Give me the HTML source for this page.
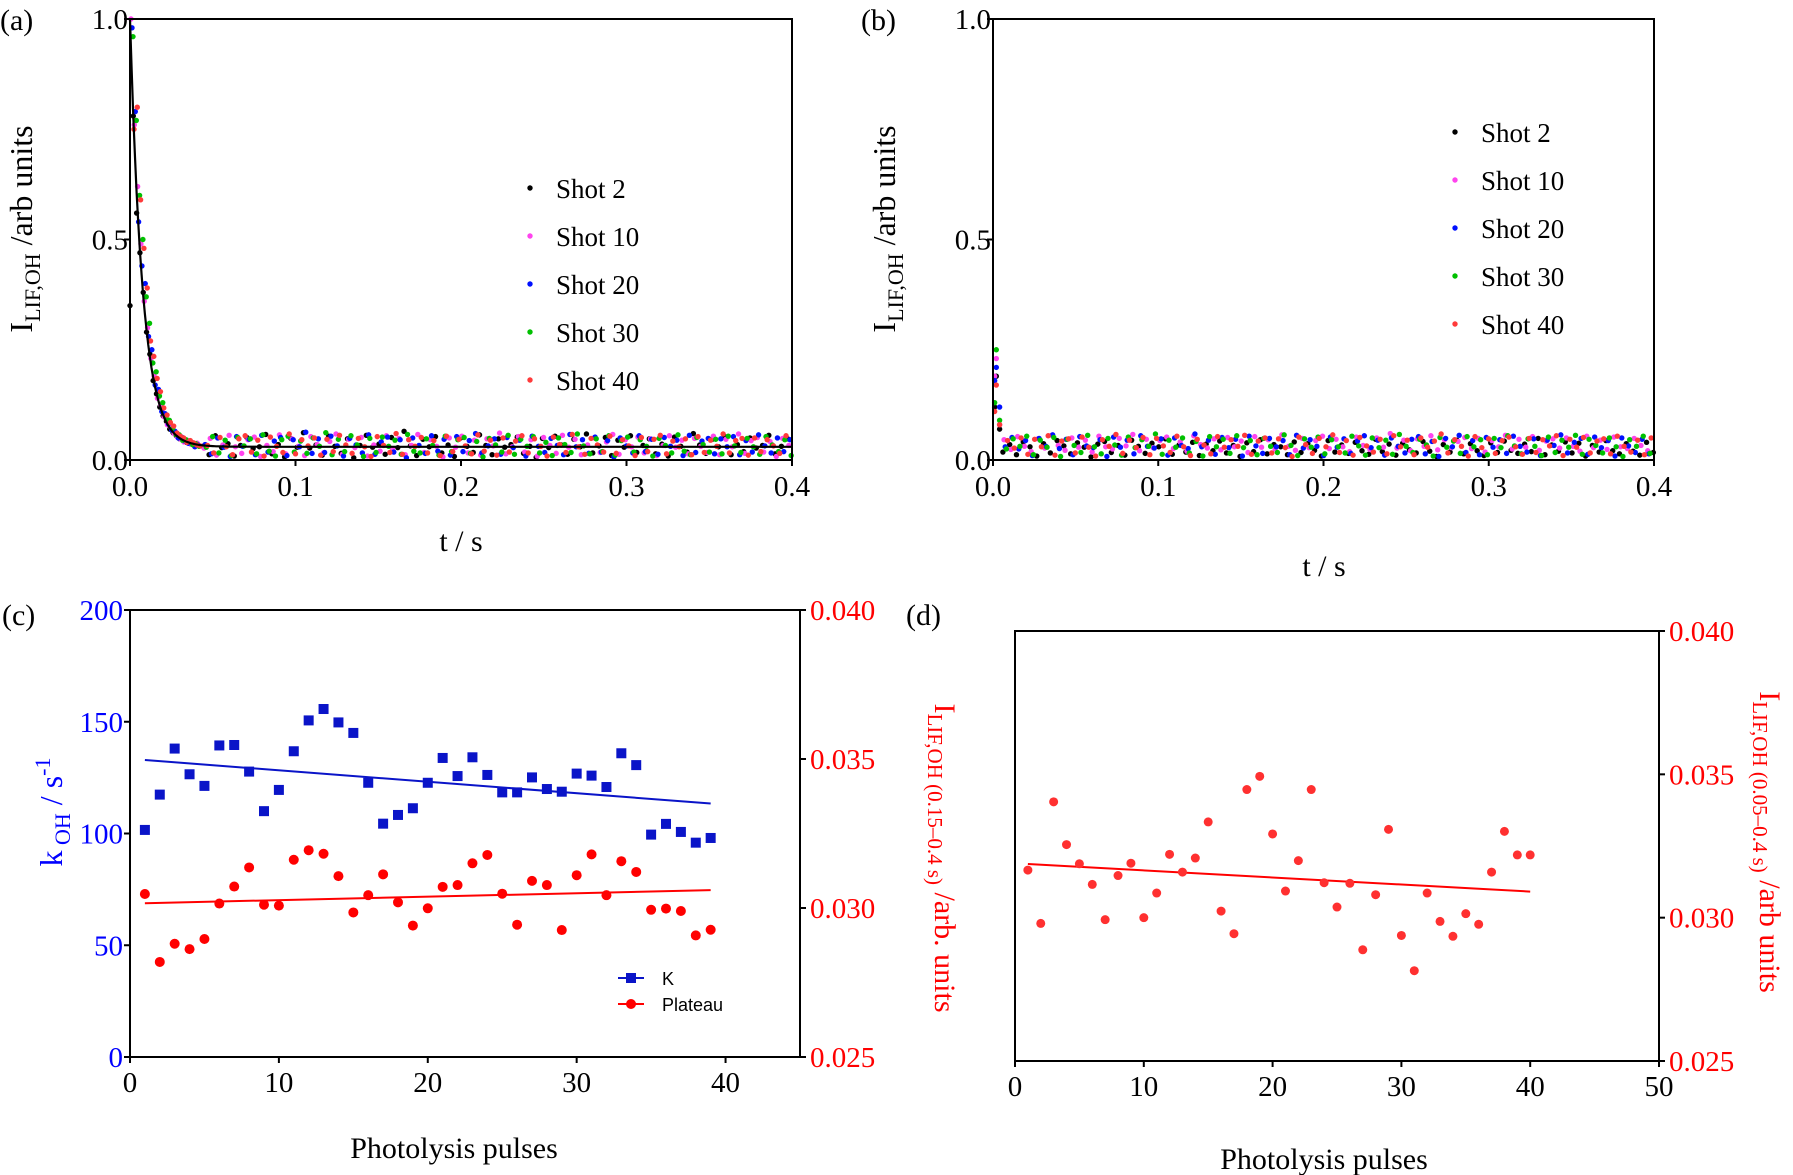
<!DOCTYPE html>
<html><head><meta charset="utf-8"><style>
html,body{margin:0;padding:0;background:#fff;}
svg{display:block;}
text{font-family:"Liberation Serif",serif;}
text.sans{font-family:"Liberation Sans",sans-serif;}
</style></head><body>
<svg id="chart" width="1793" height="1175" viewBox="0 0 1793 1175" xmlns="http://www.w3.org/2000/svg"></svg>
<script>
// ---------- Panel (a) data: decay early points (t = 0..0.04 step 0.002), thousandths ----------
const aEarlyBlack = [350,780,560,470,380,290,240,180,150,120,100,88,70,62,55,48,44,40,38,36,35];
const aEarlyMag   = [1000,760,620,490,360,300,230,190,140,125,98,80,75,60,52,47,41,45,36,33,38];
const aEarlyBlue  = [980,790,540,440,400,280,250,170,160,110,105,82,68,65,50,52,43,38,40,30,34];
const aEarlyGreen = [960,770,600,500,370,310,220,200,145,130,95,90,72,58,57,45,46,42,35,37,31];
const aEarlyRed   = [750,800,590,480,390,270,235,185,155,118,102,85,77,61,54,50,40,44,39,34,32];
// plateau noise (thousandths)
const aNoiseBlack = [31,12,55,28,37,9,33,51,26,30,58,14,35,7,49,29,62,27,34,11,54,31,15,48,5,33,56,29,36,13,51,28,65,32,10,47,30,53,16,34,8,50,31,17,57,33,12,48,29,35,52,15,31,6,49,28,54,34,13,47,30,59,16,32,51,10,45,29,55,17,33,48,14,36,9,52,31,18,60,34,15,47,30,53,12,35,19,50,27,33,56,14,31,48,28];
const aNoiseMag = [27,49,11,34,56,30,15,46,52,8,33,19,57,14,48,31,10,53,35,16,42,59,13,47,28,51,9,34,20,55,25,49,12,33,58,17,46,31,7,50,29,54,16,45,11,48,32,61,14,30,53,18,46,9,51,33,15,56,29,47,12,34,50,17,41,58,13,46,30,52,16,48,10,33,55,29,45,14,49,31,17,54,12,47,30,59,15,44,51,18,42,8,49,33,16];
const aNoiseBlue = [35,14,50,29,8,53,31,47,12,56,18,43,51,10,46,30,63,15,48,17,54,32,9,49,34,16,57,13,41,52,18,46,5,50,33,15,55,20,47,11,53,19,44,60,16,32,48,13,51,28,45,9,54,31,17,49,33,12,58,30,46,15,52,18,44,7,50,32,16,55,19,47,13,51,31,45,10,56,17,43,49,14,48,30,53,12,44,18,57,32,16,50,19,46,11];
const aNoiseGreen = [29,53,16,45,10,51,32,48,14,57,20,9,46,54,18,43,15,50,31,62,12,47,19,55,34,8,49,17,52,31,45,13,58,20,16,48,33,11,54,19,46,51,15,42,7,49,34,18,56,13,47,31,53,16,40,10,50,35,17,59,32,14,48,19,55,11,44,52,18,46,31,9,49,33,16,57,20,12,51,35,18,47,14,54,32,17,49,30,13,53,34,19,46,10,48];
const aNoiseRed = [33,16,51,30,12,48,55,18,45,9,52,31,17,59,14,46,32,50,11,47,19,56,34,15,49,30,8,53,33,17,60,13,46,31,51,16,44,10,54,19,47,32,14,57,20,45,11,50,18,43,55,16,48,31,9,52,35,17,58,30,13,49,34,18,54,15,46,32,10,51,19,47,56,14,43,30,48,12,53,17,45,31,59,16,44,49,11,50,19,46,32,15,55,18,47];
const aFitParams = [0.97, 130, 0.03]; // amplitude, k (s^-1), plateau
// ---------- Panel (b) data ----------
const bEarlyBlack = [120,190,70];
const bEarlyMag   = [190,230,80];
const bEarlyBlue  = [180,210,120];
const bEarlyGreen = [130,250,90];
const bEarlyRed   = [110,170,80];
const bNoiseBlack = [18,35,12,41,30,9,37,16,44,32,14,39,29,7,36,42,17,33,11,45,31,15,38,30,48,13,34,18,40,10,36,21,43,16,33,8,39,19,46,14,35,30,12,41,17,37,22,9,44,18,34,15,40,21,13,47,19,36,11,38,23,16,42,20,8,35,18,45,14,37,21,10,39,17,43,22,15,36,19,49,12,34,20,41,16,38,9,33,18,44,21,14,37,20,11,40,17];
const bNoiseMag = [46,24,53,31,19,48,27,56,33,22,50,29,45,18,54,30,25,49,32,58,21,47,28,44,52,26,41,20,55,35,27,48,23,51,30,43,17,53,29,46,25,57,31,22,49,28,44,54,26,47,30,19,52,33,24,50,29,60,27,45,21,48,31,55,23,46,28,42,51,26,49,18,44,30,56,25,47,29,53,22,43,48,27,50,31,20,54,28,45,24,52,30,26,49,33,21,47];
const bNoiseBlue = [30,51,25,44,10,49,31,57,26,47,12,53,32,28,46,8,52,29,45,14,55,31,27,48,11,50,33,26,59,30,45,13,51,28,47,9,54,32,15,49,30,44,12,56,27,46,31,10,52,29,48,15,43,55,28,45,11,50,31,16,47,53,14,42,8,49,30,56,17,44,12,51,29,46,15,54,31,18,48,10,45,33,57,16,40,49,13,52,28,44,9,50,32,17,47,14,46];
const bNoiseGreen = [25,48,31,54,12,45,29,51,8,47,33,17,56,30,14,49,34,11,52,28,46,31,59,13,45,29,50,16,42,9,53,30,47,15,55,28,44,12,49,31,17,57,33,10,48,29,52,14,46,30,16,54,32,11,50,28,45,13,58,31,17,47,34,9,51,29,43,15,53,30,46,12,49,28,55,32,14,48,31,10,52,17,45,29,56,13,47,33,16,50,30,8,46,31,54,15,44];
const bNoiseRed = [44,27,50,13,47,30,55,11,43,48,16,52,29,9,46,31,58,15,45,28,51,12,49,32,17,54,30,10,47,34,14,53,29,46,31,56,13,43,50,16,48,28,8,52,35,15,49,30,57,17,44,11,51,32,18,47,14,55,30,45,12,50,29,43,59,16,46,31,9,53,28,48,15,44,52,30,13,49,17,46,32,55,10,47,29,51,16,43,48,14,54,31,18,45,12,50,30];
const shotLabels = ["Shot 2","Shot 10","Shot 20","Shot 30","Shot 40"];
const shotColors = ["#000000","#ff44ee","#0010ff","#00c000","#ff3a3a"];
const abTicksX = [0,0.1,0.2,0.3,0.4];
const abTickLabelsX = ["0.0","0.1","0.2","0.3","0.4"];
const abTicksY = [0,0.5,1];
const abTickLabelsY = ["0.0","0.5","1.0"];
// ---------- Panel (c) data ----------
const cPulses = [1,2,3,4,5,6,7,8,9,10,11,12,13,14,15,16,17,18,19,20,21,22,23,24,25,26,27,28,29,30,31,32,33,34,35,36,37,38,39];
const cK = [101.6,117.4,138,126.5,121.3,139.4,139.6,127.7,110,119.5,136.8,150.6,155.7,149.7,145,122.7,104.4,108.3,111.3,122.7,133.8,125.7,134.1,126.2,118.4,118.4,125.1,119.9,118.7,126.8,125.9,120.8,135.9,130.6,99.5,104.3,100.7,95.9,98];
const cPlateau = [0.03047,0.02819,0.0288,0.02862,0.02896,0.03015,0.03072,0.03136,0.03011,0.03008,0.03162,0.03194,0.03182,0.03107,0.02985,0.03043,0.03113,0.03019,0.02941,0.02999,0.03071,0.03077,0.0315,0.03178,0.03048,0.02944,0.03091,0.03077,0.02926,0.0311,0.0318,0.03043,0.03157,0.03121,0.02994,0.02998,0.0299,0.02908,0.02927];
const cKFitX = [1,39];
const cKFitY = [132.9,113.4];
const cPlFitX = [1,39];
const cPlFitY = [0.03016,0.0306];
const cTicksX = [0,10,20,30,40];
const cTicksYL = [0,50,100,150,200];
const cTicksYR = [0.025,0.030,0.035,0.040];
const cTickLabelsYR = ["0.025","0.030","0.035","0.040"];
// ---------- Panel (d) data ----------
const dPulses = [1,2,3,4,5,6,7,8,9,10,11,12,13,14,15,16,17,18,19,20,21,22,23,24,25,26,27,28,29,30,31,32,33,34,35,36,37,38,39,40];
const dPlateau = [0.03166,0.0298,0.03404,0.03255,0.03188,0.03116,0.02993,0.03147,0.0319,0.030,0.03086,0.03221,0.03159,0.03208,0.03334,0.03023,0.02944,0.03447,0.03493,0.03292,0.03093,0.03199,0.03447,0.03122,0.03037,0.0312,0.02888,0.0308,0.03308,0.02938,0.02815,0.03086,0.02987,0.02935,0.03014,0.02977,0.03159,0.03301,0.03219,0.03219];
const dFitX = [1,40];
const dFitY = [0.03187,0.03091];
const dTicksX = [0,10,20,30,40,50];
const dTicksY = [0.025,0.030,0.035,0.040];
const dTickLabelsY = ["0.025","0.030","0.035","0.040"];

const NS = "http://www.w3.org/2000/svg";
const svg = document.getElementById("chart");
const TF = 29;
function mk(tag, attrs, parent) {
  const e = document.createElementNS(NS, tag);
  for (const k in attrs) e.setAttribute(k, attrs[k]);
  (parent || svg).appendChild(e);
  return e;
}
function txt(str, x, y, size, fill, anchor, parent) {
  const t = mk("text", {x: x, y: y, "font-size": size, fill: fill || "#000", "text-anchor": anchor || "middle"}, parent);
  t.textContent = str;
  return t;
}
function lin(d0, d1, r0, r1) { return v => r0 + (v - d0) / (d1 - d0) * (r1 - r0); }

// ================= Panels (a) and (b) =================
function decayPanel(cfg) {
  const g = mk("g", {});
  
  
  const X = lin(0, 0.4, cfg.l, cfg.r), Y = lin(0, 1, cfg.b, cfg.t);
  cfg.series.forEach((s, si) => {
    const sg = mk("g", {fill: shotColors[si]}, g);
    
    
    s.early.forEach((v, i) => {
      const t = cfg.earlyT[i] + si * cfg.earlyShift;
      const c = mk("circle", {cx: X(t), cy: Y(v / 1000), r: 2.7}, sg);
      
      
    });
    s.noise.forEach((v, i) => {
      const t = cfg.noiseStart + i * cfg.noiseStep + si * 0.0007;
      if (t > 0.4) return;
      const c = mk("circle", {cx: X(t), cy: Y(v / 1000), r: 2.7}, sg);
      
      
    });
  });
  if (cfg.fit) {
    let d = "";
    for (let i = 0; i <= 400; i++) {
      const t = i * 0.001;
      const v = cfg.fit[2] + cfg.fit[0] * Math.exp(-cfg.fit[1] * t);
      d += (i ? "L" : "M") + X(t).toFixed(1) + "," + Y(v).toFixed(1);
    }
    const p = mk("path", {d: d, stroke: "#000", "stroke-width": 2.2, fill: "none"}, g);
    
    
  }
  const fr = mk("rect", {x: cfg.l, y: cfg.t, width: cfg.r - cfg.l, height: cfg.b - cfg.t, fill: "none", stroke: "#000", "stroke-width": 2}, g);
  
  
  abTicksX.forEach((v, i) => {
    mk("line", {x1: X(v), x2: X(v), y1: cfg.b, y2: cfg.b + 6, stroke: "#000", "stroke-width": 2}, g);
    const t = txt(abTickLabelsX[i], X(v), cfg.b + 36, TF, "#000", "middle", g);
    
    
  });
  abTicksY.forEach((v, i) => {
    mk("line", {x1: cfg.l - 6, x2: cfg.l, y1: Y(v), y2: Y(v), stroke: "#000", "stroke-width": 2}, g);
    const t = txt(abTickLabelsY[i], cfg.l - 2, Y(v) + 10, TF, "#000", "end", g);
    
    
  });
  shotLabels.forEach((lab, i) => {
    const y = cfg.legY + i * cfg.legDy;
    const c = mk("circle", {cx: cfg.legX, cy: y, r: 2.7, fill: shotColors[i]}, g);
    
    
    const t = txt(lab, cfg.legX + 26, y + 10, 27, "#000", "start", g);
    
    
  });
  const xt = txt("t / s", cfg.xtX, cfg.xtY, 30, "#000", "middle", g);
  
  
  const yt = mk("text", {transform: "translate(" + cfg.ytX + "," + cfg.ytY + ") rotate(-90)", "font-size": 32, "text-anchor": "middle"}, g);
  yt.innerHTML = 'I<tspan font-size="22" dy="8">LIF,OH</tspan><tspan dy="-8">  /arb units</tspan>';
  
  
  const pl = txt(cfg.label, cfg.labX, 30, 30, "#000", "start", g);
  
  
}
const aEarlyT = aEarlyBlack.map((_, i) => i * 0.002);
decayPanel({name: "panel-a", l: 130, r: 792, t: 19, b: 460, label: "(a)", labX: 0,
  earlyT: aEarlyT, earlyShift: 0.0006, noiseStart: 0.044, noiseStep: 0.0038, fit: aFitParams,
  series: [{early: aEarlyBlack, noise: aNoiseBlack}, {early: aEarlyMag, noise: aNoiseMag}, {early: aEarlyBlue, noise: aNoiseBlue}, {early: aEarlyGreen, noise: aNoiseGreen}, {early: aEarlyRed, noise: aNoiseRed}],
  legX: 530, legY: 188, legDy: 48, xtX: 461, xtY: 551, ytX: 32, ytY: 229});
decayPanel({name: "panel-b", l: 993, r: 1654, t: 19, b: 460, label: "(b)", labX: 861,
  earlyT: [0.001, 0.002, 0.004], earlyShift: 0, noiseStart: 0.006, noiseStep: 0.0041, fit: null,
  series: [{early: bEarlyBlack, noise: bNoiseBlack}, {early: bEarlyMag, noise: bNoiseMag}, {early: bEarlyBlue, noise: bNoiseBlue}, {early: bEarlyGreen, noise: bNoiseGreen}, {early: bEarlyRed, noise: bNoiseRed}],
  legX: 1455, legY: 132, legDy: 48, xtX: 1324, xtY: 576, ytX: 895, ytY: 229});

// ================= Panel (c) =================
(function () {
  const g = mk("g", {});
  
  
  const L = 130, R = 800, T = 610, B = 1057;
  const X = lin(0, 45, L, R), YL = lin(0, 200, B, T), YR = lin(0.025, 0.040, B, T);
  const blue = "#0a14c8", red = "#ff0000";
  const kl = mk("line", {x1: X(cKFitX[0]), y1: YL(cKFitY[0]), x2: X(cKFitX[1]), y2: YL(cKFitY[1]), stroke: blue, "stroke-width": 2}, g);
  
  
  const pl = mk("line", {x1: X(cPlFitX[0]), y1: YR(cPlFitY[0]), x2: X(cPlFitX[1]), y2: YR(cPlFitY[1]), stroke: red, "stroke-width": 2}, g);
  
  
  cPulses.forEach((p, i) => {
    const s = mk("rect", {x: X(p) - 5, y: YL(cK[i]) - 5, width: 10, height: 10, fill: blue}, g);
    
    
    const c = mk("circle", {cx: X(p), cy: YR(cPlateau[i]), r: 5, fill: red}, g);
    
    
  });
  mk("line", {x1: L, y1: T, x2: R, y2: T, stroke: "#000", "stroke-width": 2}, g);
  const la = mk("line", {x1: L, y1: T, x2: L, y2: B + 1, stroke: "#000", "stroke-width": 2}, g);
  
  
  const ra = mk("line", {x1: R, y1: T, x2: R, y2: B + 1, stroke: "#000", "stroke-width": 2}, g);
  
  
  const xa = mk("line", {x1: L, y1: B, x2: R, y2: B, stroke: "#000", "stroke-width": 2}, g);
  
  
  cTicksX.forEach(v => {
    mk("line", {x1: X(v), x2: X(v), y1: B, y2: B + 6, stroke: "#000", "stroke-width": 2}, g);
    const t = txt(String(v), X(v), B + 35, TF, "#000", "middle", g);
    
    
  });
  cTicksYL.forEach(v => {
    mk("line", {x1: L - 6, x2: L, y1: YL(v), y2: YL(v), stroke: "#000", "stroke-width": 2}, g);
    const t = txt(String(v), L - 7, YL(v) + 10, TF, "#0000ff", "end", g);
    
    
  });
  cTicksYR.forEach((v, i) => {
    mk("line", {x1: R, x2: R + 6, y1: YR(v), y2: YR(v), stroke: "#000", "stroke-width": 2}, g);
    const t = txt(cTickLabelsYR[i], R + 10, YR(v) + 10, TF, "#ff0000", "start", g);
    
    
  });
  mk("line", {x1: 618, x2: 644, y1: 978, y2: 978, stroke: blue, "stroke-width": 2}, g);
  const lm1 = mk("rect", {x: 626, y: 973, width: 10, height: 10, fill: blue}, g);
  
  
  const lt1 = mk("text", {x: 662, y: 985, "font-size": 18, "class": "sans"}, g);
  lt1.textContent = "K";
  
  
  mk("line", {x1: 618, x2: 644, y1: 1004, y2: 1004, stroke: red, "stroke-width": 2}, g);
  const lm2 = mk("circle", {cx: 631, cy: 1004, r: 5, fill: red}, g);
  
  
  const lt2 = mk("text", {x: 662, y: 1011, "font-size": 18, "class": "sans"}, g);
  lt2.textContent = "Plateau";
  
  
  const xt = txt("Photolysis pulses", 454, 1158, 30, "#000", "middle", g);
  
  
  const yt = mk("text", {transform: "translate(62,812) rotate(-90)", "font-size": 32, "text-anchor": "middle", fill: "#0000ff"}, g);
  yt.innerHTML = 'k<tspan font-size="22" dy="8"> OH</tspan><tspan dy="-8"> / s</tspan><tspan font-size="22" dy="-12">-1</tspan>';
  
  
  const yr = mk("text", {transform: "translate(935,858) rotate(90)", "font-size": 30, "text-anchor": "middle", fill: "#ff0000"}, g);
  yr.innerHTML = 'I<tspan font-size="21" dy="7">LIF,OH (0.15–0.4 s)</tspan><tspan dy="-7">    /arb. units</tspan>';
  
  
  const lab = txt("(c)", 2, 625, 30, "#000", "start", g);
  
  
})();

// ================= Panel (d) =================
(function () {
  const g = mk("g", {});
  
  
  const L = 1015, R = 1659, T = 631, B = 1061;
  const X = lin(0, 50, L, R), Y = lin(0.025, 0.040, B, T);
  const red = "#ff3030";
  const fl = mk("line", {x1: X(dFitX[0]), y1: Y(dFitY[0]), x2: X(dFitX[1]), y2: Y(dFitY[1]), stroke: "#ff0000", "stroke-width": 2}, g);
  
  
  dPulses.forEach((p, i) => {
    const c = mk("circle", {cx: X(p), cy: Y(dPlateau[i]), r: 4.5, fill: red}, g);
    
    
  });
  const fr = mk("rect", {x: L, y: T, width: R - L, height: B - T, fill: "none", stroke: "#000", "stroke-width": 2}, g);
  
  
  dTicksX.forEach(v => {
    mk("line", {x1: X(v), x2: X(v), y1: B, y2: B + 6, stroke: "#000", "stroke-width": 2}, g);
    const t = txt(String(v), X(v), B + 35, TF, "#000", "middle", g);
    
    
  });
  dTicksY.forEach((v, i) => {
    mk("line", {x1: R, x2: R + 6, y1: Y(v), y2: Y(v), stroke: "#000", "stroke-width": 2}, g);
    const t = txt(dTickLabelsY[i], R + 10, Y(v) + 10, TF, "#ff0000", "start", g);
    
    
  });
  const xt = txt("Photolysis pulses", 1324, 1169, 30, "#000", "middle", g);
  
  
  const yr = mk("text", {transform: "translate(1760,842) rotate(90)", "font-size": 30, "text-anchor": "middle", fill: "#ff0000"}, g);
  yr.innerHTML = 'I<tspan font-size="21" dy="7">LIF,OH (0.05–0.4 s)</tspan><tspan dy="-7">    /arb units</tspan>';
  
  
  const lab = txt("(d)", 906, 625, 30, "#000", "start", g);
  
  
})();
</script>
</body></html>
